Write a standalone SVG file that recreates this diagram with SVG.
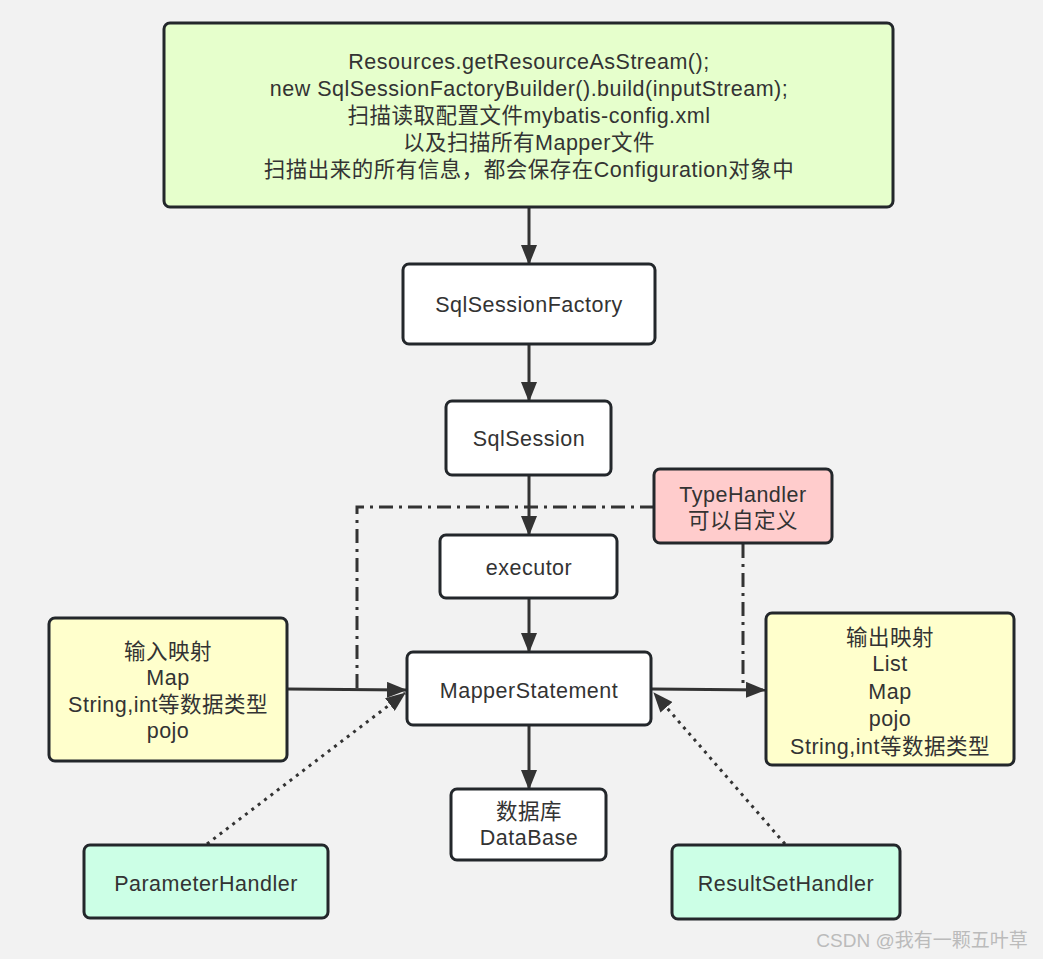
<svg xmlns="http://www.w3.org/2000/svg" width="1043" height="959" viewBox="0 0 1043 959">
<style>
.n{stroke:#23272b;stroke-width:3}
.t{font-family:"Liberation Sans","Noto Sans CJK SC",sans-serif;font-size:21.5px;letter-spacing:0.5px;fill:#333;text-anchor:middle}
.c{stroke:#333;stroke-width:3;fill:none}
.dd{stroke-dasharray:14 6 3 6}
.dt{stroke-dasharray:3 5}
</style>
<defs>
<marker id="a" viewBox="0 0 20 16" refX="19" refY="8" markerWidth="20" markerHeight="16" markerUnits="userSpaceOnUse" orient="auto">
<path d="M0,0 L20,8 L0,16 z" fill="#333"/>
</marker>
</defs>
<rect width="1043" height="959" fill="#f2f2f2"/>
<g id="connectors">
<line class="c" x1="529" y1="207" x2="529" y2="264" marker-end="url(#a)"/>
<line class="c" x1="529" y1="344" x2="529" y2="401" marker-end="url(#a)"/>
<line class="c" x1="529" y1="475" x2="529" y2="535" marker-end="url(#a)"/>
<line class="c" x1="529" y1="598" x2="529" y2="652" marker-end="url(#a)"/>
<line class="c" x1="529" y1="725" x2="529" y2="789" marker-end="url(#a)"/>
<line class="c" x1="287" y1="689" x2="406" y2="690" marker-end="url(#a)"/>
<line class="c" x1="652" y1="689" x2="765" y2="690" marker-end="url(#a)"/>
<polyline class="c dd" points="654,507 357,507 357,689"/>
<line class="c dd" x1="743" y1="544" x2="743" y2="689"/>
<line class="c dt" x1="207" y1="844" x2="405" y2="693" marker-end="url(#a)"/>
<line class="c dt" x1="785" y1="844" x2="654" y2="693" marker-end="url(#a)"/>
</g>
<g id="top">
<rect class="n" x="164" y="23" width="729" height="184" rx="6" fill="#e6ffcc"/>
<text class="t" x="529" y="69">Resources.getResourceAsStream();</text>
<text class="t" x="529" y="96">new SqlSessionFactoryBuilder().build(inputStream);</text>
<text class="t" x="529" y="123">扫描读取配置文件mybatis-config.xml</text>
<text class="t" x="529" y="150">以及扫描所有Mapper文件</text>
<text class="t" x="529" y="177">扫描出来的所有信息，都会保存在Configuration对象中</text>
</g>
<g id="factory">
<rect class="n" x="403" y="264" width="252" height="80" rx="6" fill="#fff"/>
<text class="t" x="529" y="312">SqlSessionFactory</text>
</g>
<g id="session">
<rect class="n" x="446" y="401" width="165" height="74" rx="6" fill="#fff"/>
<text class="t" x="529" y="446">SqlSession</text>
</g>
<g id="executor">
<rect class="n" x="440" y="535" width="177" height="63" rx="6" fill="#fff"/>
<text class="t" x="529" y="575">executor</text>
</g>
<g id="mapper">
<rect class="n" x="407" y="652" width="244" height="73" rx="6" fill="#fff"/>
<text class="t" x="529" y="698">MapperStatement</text>
</g>
<g id="db">
<rect class="n" x="451" y="789" width="155" height="71" rx="6" fill="#fff"/>
<text class="t" x="529" y="819">数据库</text>
<text class="t" x="529" y="845">DataBase</text>
</g>
<g id="typehandler">
<rect class="n" x="654" y="469" width="178" height="74" rx="6" fill="#ffcccc"/>
<text class="t" x="743" y="502">TypeHandler</text>
<text class="t" x="743" y="528">可以自定义</text>
</g>
<g id="input">
<rect class="n" x="49" y="618" width="238" height="143" rx="6" fill="#ffffcc"/>
<text class="t" x="168" y="659">输入映射</text>
<text class="t" x="168" y="685">Map</text>
<text class="t" x="168" y="712">String,int等数据类型</text>
<text class="t" x="168" y="738">pojo</text>
</g>
<g id="output">
<rect class="n" x="766" y="613" width="248" height="152" rx="6" fill="#ffffcc"/>
<text class="t" x="890" y="645">输出映射</text>
<text class="t" x="890" y="671">List</text>
<text class="t" x="890" y="699">Map</text>
<text class="t" x="890" y="726">pojo</text>
<text class="t" x="890" y="754">String,int等数据类型</text>
</g>
<g id="param">
<rect class="n" x="84" y="845" width="244" height="73" rx="6" fill="#ccffe6"/>
<text class="t" x="206" y="891">ParameterHandler</text>
</g>
<g id="result">
<rect class="n" x="672" y="845" width="228" height="74" rx="6" fill="#ccffe6"/>
<text class="t" x="786" y="891">ResultSetHandler</text>
</g>
<text x="922" y="947" style="font-family:'Liberation Sans','Noto Sans CJK SC',sans-serif;font-size:19px;fill:#bbb;text-anchor:middle">CSDN @我有一颗五叶草</text>
</svg>
